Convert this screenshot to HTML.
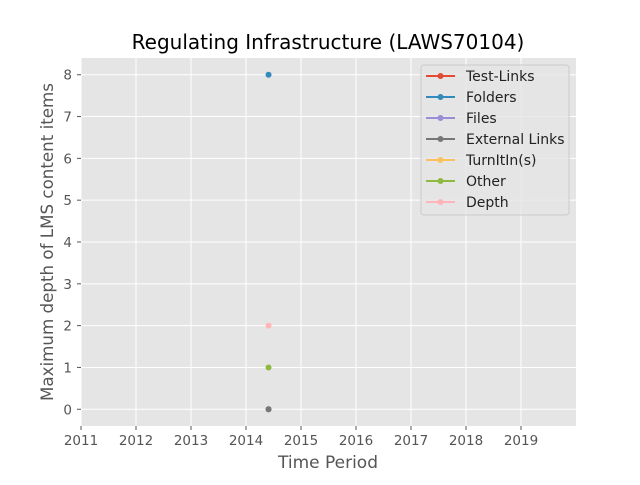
<!DOCTYPE html>
<html><head><meta charset="utf-8"><style>
body{margin:0;background:#fff;}
svg text{font-family:"DejaVu Sans","Liberation Sans",sans-serif;}
</style></head><body>
<svg id="chart" width="640" height="480" xmlns="http://www.w3.org/2000/svg">
<rect x="0" y="0" width="640" height="480" fill="#fff"/>
<rect x="81" y="58" width="495" height="368" fill="#E5E5E5"/>
<g id="grid"></g>
<g id="ticks"></g>
<g id="marks"></g>
<text x="328" y="49" text-anchor="middle" font-size="20" fill="#000">Regulating Infrastructure (LAWS70104)</text>
<text x="328" y="468" text-anchor="middle" font-size="17" fill="#555">Time Period</text>
<text transform="translate(53,242) rotate(-90)" text-anchor="middle" font-size="16.7" fill="#555">Maximum depth of LMS content items</text>
<g id="legend">
<rect x="421" y="65" width="148" height="150" rx="3" fill="#E5E5E5" fill-opacity="0.8" stroke="#ccc" stroke-width="1"/>
</g>
</svg>
<script>
const seriesNames=["Test-Links","Folders","Files","External Links","TurnItIn(s)","Other","Depth"];
const seriesColors=["#E24A33","#348ABD","#988ED5","#777777","#FBC15E","#8EBA42","#FFB5B8"];
const pointX=[2014.41,2014.41,2014.41,2014.41,null,2014.41,2014.41];
const pointY=[0,8,0,0,null,1,2];
const xTicks=[2011,2012,2013,2014,2015,2016,2017,2018,2019];
const yTicks=[0,1,2,3,4,5,6,7,8];
const NS="http://www.w3.org/2000/svg";
const L=81,R=576,T=58,B=426;
const xMin=2011,xMax=2020,yMin=-0.4,yMax=8.4;
const xs=v=>L+(v-xMin)/(xMax-xMin)*(R-L);
const ys=v=>B-(v-yMin)/(yMax-yMin)*(B-T);
function mk(tag,attrs,parent){const e=document.createElementNS(NS,tag);for(const k in attrs)e.setAttribute(k,attrs[k]);document.getElementById(parent).appendChild(e);return e;}
xTicks.forEach(t=>{
 const g=mk('line',{x1:xs(t),x2:xs(t),y1:T,y2:B,stroke:'#fff','stroke-width':1},'grid');
 
 
 const tk=mk('line',{x1:xs(t),x2:xs(t),y1:B,y2:B+4,stroke:'#555'},'ticks');
 
 
 const tx=mk('text',{x:xs(t),y:B+19,'text-anchor':'middle','font-size':13.5,fill:'#555'},'ticks');
 tx.textContent=t;
 
 
});
yTicks.forEach(t=>{
 const g=mk('line',{x1:L,x2:R,y1:ys(t),y2:ys(t),stroke:'#fff','stroke-width':1},'grid');
 
 
 const tk=mk('line',{x1:L-4,x2:L,y1:ys(t),y2:ys(t),stroke:'#555'},'ticks');
 
 
 const tx=mk('text',{x:L-9,y:ys(t)+5,'text-anchor':'end','font-size':13.5,fill:'#555'},'ticks');
 tx.textContent=t;
 
 
});
seriesNames.forEach((n,i)=>{
 if(pointX[i]!==null){
  const c=mk('circle',{cx:xs(pointX[i]),cy:ys(pointY[i]),r:3,fill:seriesColors[i]},'marks');
  
  
 }
 const y=76+i*21;
 const ln=mk('line',{x1:426,x2:455,y1:y,y2:y,stroke:seriesColors[i],'stroke-width':2},'legend');
 
 
 mk('circle',{cx:440.5,cy:y,r:3,fill:seriesColors[i]},'legend');
 const tx=mk('text',{x:466,y:y+5,'font-size':14,fill:'#222'},'legend');
 tx.textContent=n;
 
 
});
</script>
</body></html>
